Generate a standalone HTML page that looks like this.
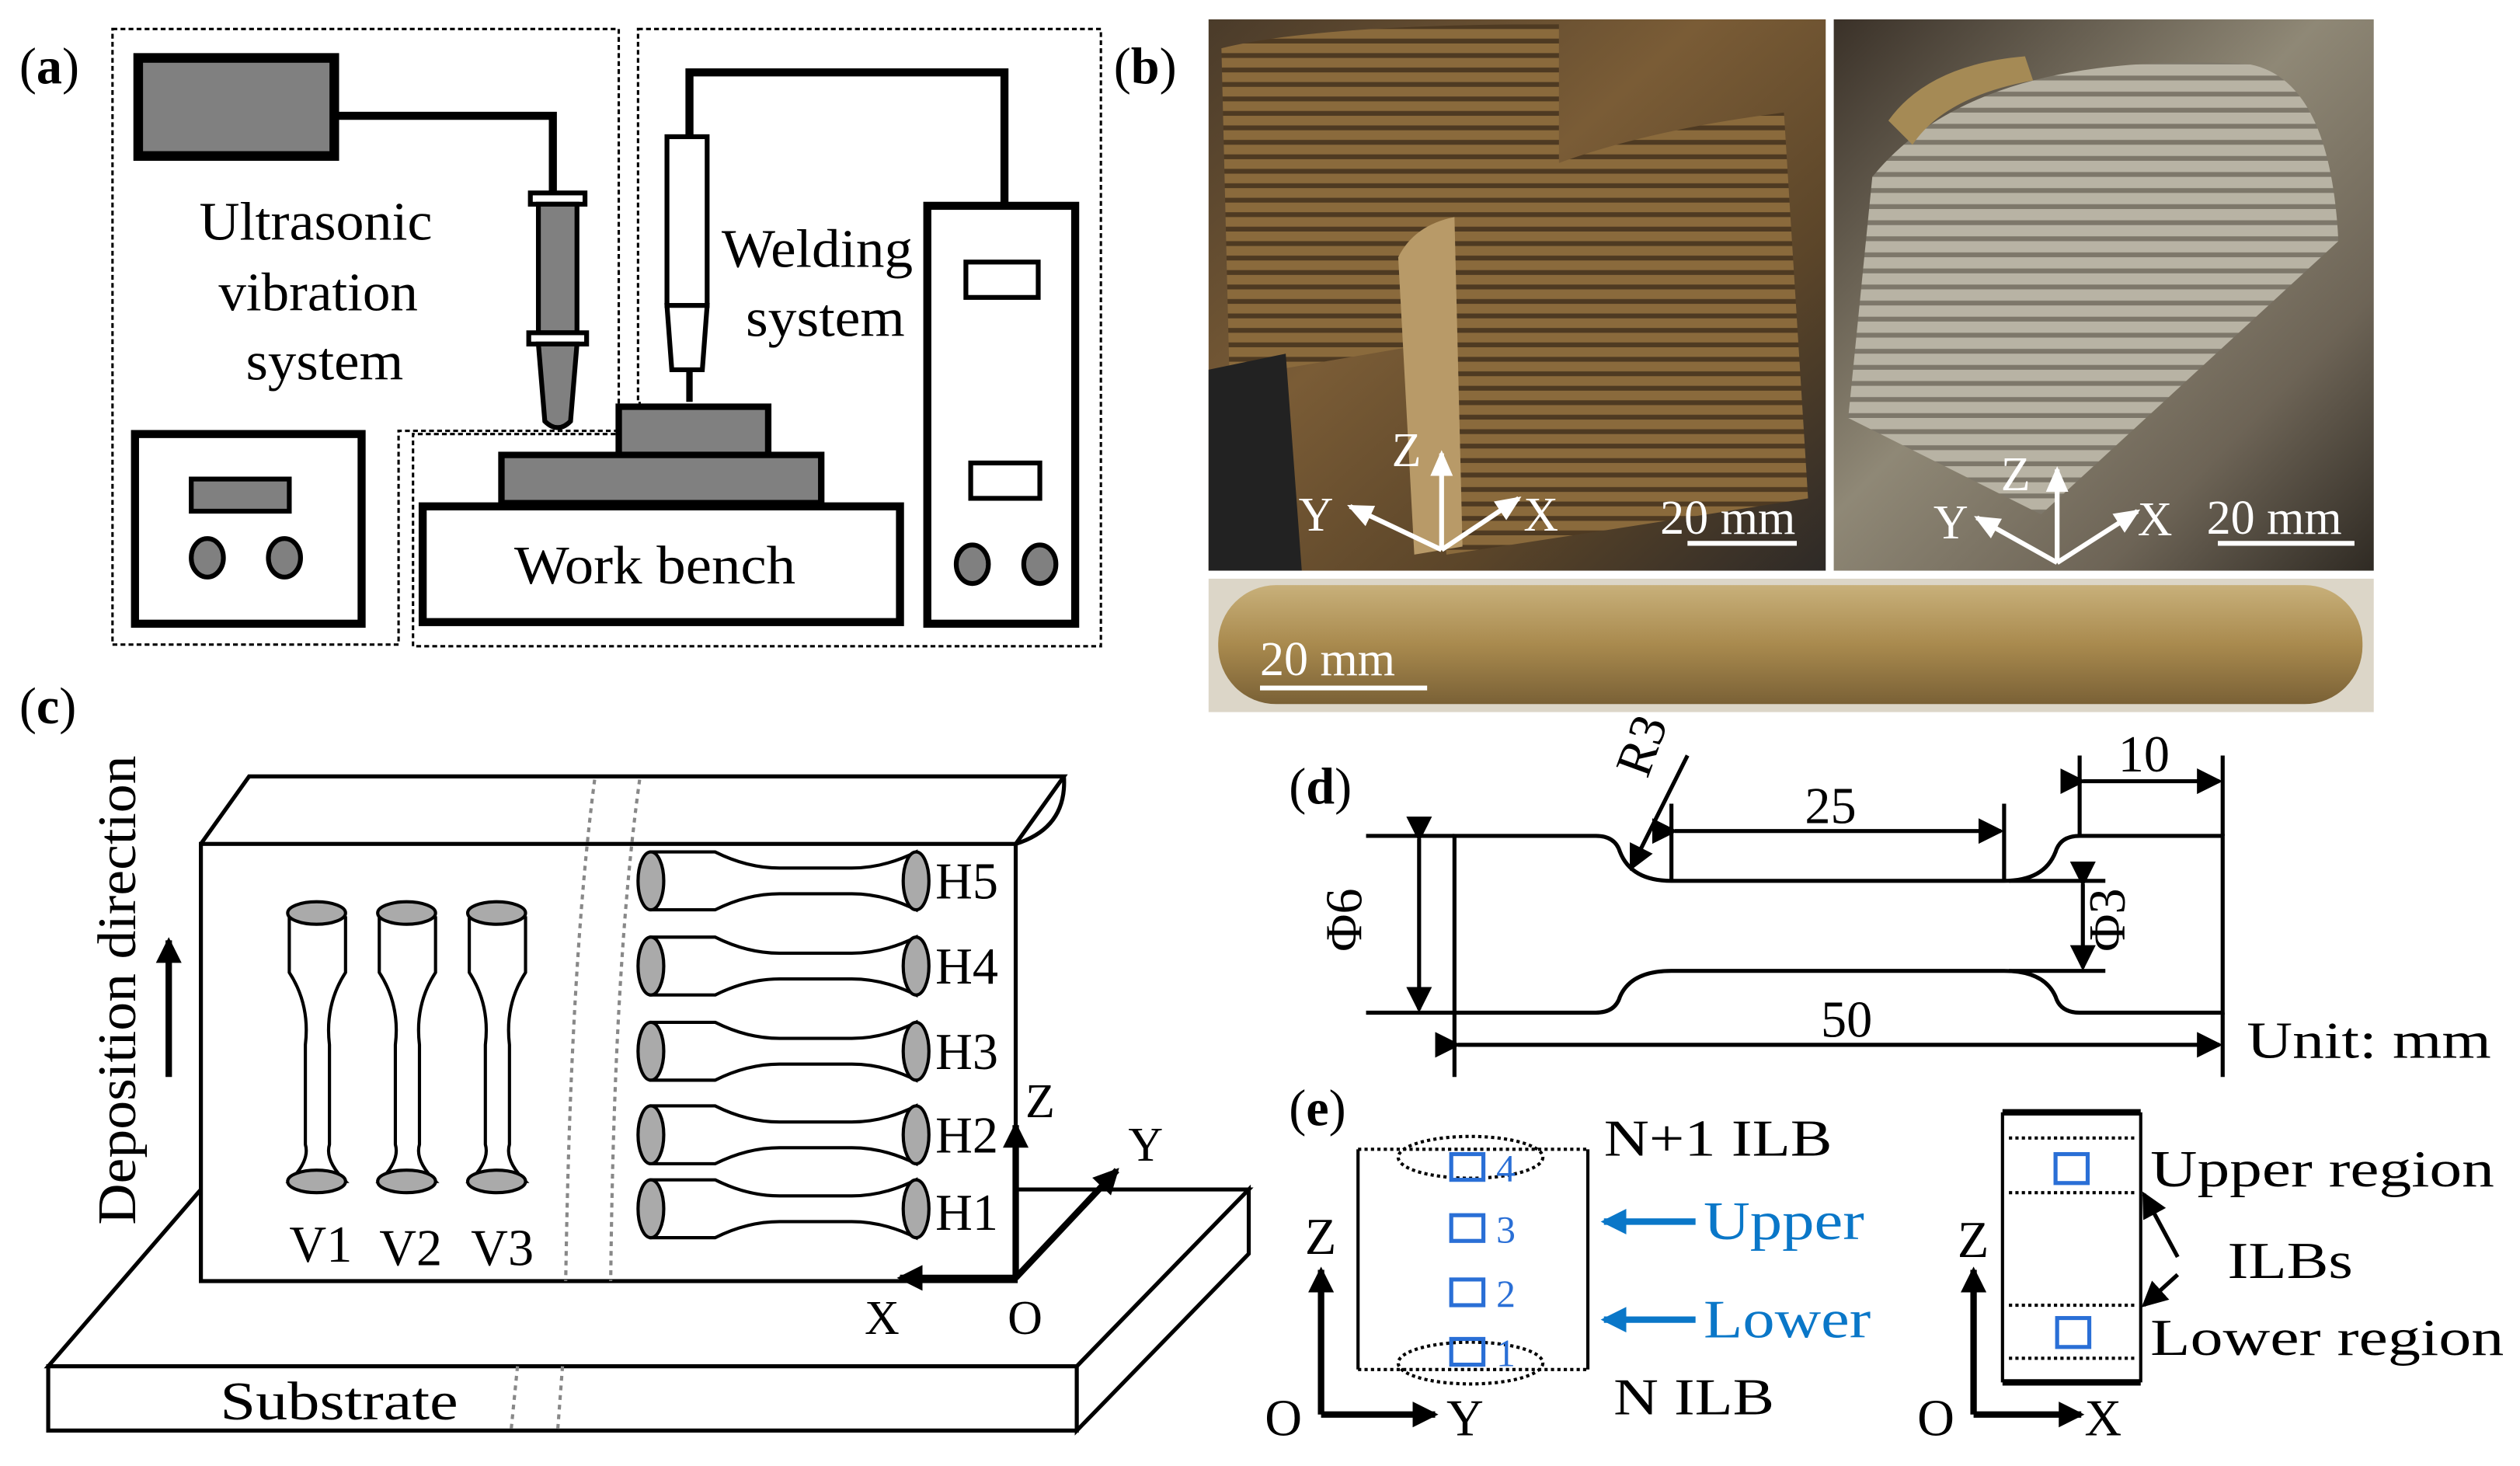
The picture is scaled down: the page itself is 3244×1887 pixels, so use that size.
<!DOCTYPE html>
<html><head><meta charset="utf-8"><style>html,body{margin:0;padding:0;background:#fff}svg{display:block}text{font-family:"Liberation Serif",serif}</style></head><body>
<svg width="3244" height="1887" viewBox="0 0 1568 912" xmlns="http://www.w3.org/2000/svg">
<defs>
<marker id="ahb" markerWidth="16" markerHeight="16" refX="14" refY="8" orient="auto" markerUnits="userSpaceOnUse" viewBox="0 0 16 16"><path d="M0,0 L16,8 L0,16 z" fill="#000"/></marker>
<marker id="ahw" markerWidth="16" markerHeight="16" refX="14" refY="8" orient="auto" markerUnits="userSpaceOnUse" viewBox="0 0 16 16"><path d="M0,1 L16,8 L0,15 z" fill="#fff"/></marker>
<marker id="ahblue" markerWidth="16" markerHeight="16" refX="14" refY="8" orient="auto" markerUnits="userSpaceOnUse" viewBox="0 0 16 16"><path d="M0,0 L16,8 L0,16 z" fill="#0a77c8"/></marker>
<linearGradient id="p1" x1="0" y1="0" x2="1" y2="1"><stop offset="0" stop-color="#4a3b2a"/><stop offset="0.4" stop-color="#7a5c36"/><stop offset="0.7" stop-color="#5b4529"/><stop offset="1" stop-color="#2e2a27"/></linearGradient>
<linearGradient id="p2" x1="0" y1="0" x2="1" y2="1"><stop offset="0" stop-color="#3a3128"/><stop offset="0.45" stop-color="#8f8876"/><stop offset="0.75" stop-color="#6d6456"/><stop offset="1" stop-color="#2f2a23"/></linearGradient>
<linearGradient id="p3" x1="0" y1="0" x2="0" y2="1"><stop offset="0" stop-color="#c8b07a"/><stop offset="0.5" stop-color="#a98a4e"/><stop offset="1" stop-color="#7a6136"/></linearGradient>
<pattern id="ridge" width="8" height="9" patternUnits="userSpaceOnUse"><rect width="8" height="9" fill="#8a6a3c"/><rect y="6" width="8" height="3" fill="#4e3a22"/></pattern>
<pattern id="ridge2" width="9" height="10" patternUnits="userSpaceOnUse"><rect width="9" height="10" fill="#b8b3a4"/><rect y="7" width="9" height="3" fill="#7d776a"/></pattern>
</defs>

<!-- (a) -->
<text x="12" y="52" font-size="32">(<tspan font-weight="bold">a</tspan>)</text>
<g fill="none" stroke="#000" stroke-width="1.5" stroke-dasharray="3,2">
<path d="M70,18 H385 V268 H248 V401 H70 Z"/>
<path d="M397,18 H685 V402 H257 V270 H398 V250 H397 Z"/>
</g>
<rect x="86" y="36" width="122" height="61" fill="#808080" stroke="#000" stroke-width="6"/>
<path d="M208,72 H344 V120" fill="none" stroke="#000" stroke-width="5"/>
<rect x="330" y="120" width="34" height="7" fill="#fff" stroke="#000" stroke-width="3"/>
<rect x="335" y="127" width="24" height="80" fill="#808080" stroke="#000" stroke-width="3"/>
<rect x="329" y="207" width="36" height="7" fill="#fff" stroke="#000" stroke-width="3"/>
<path d="M335,214 H359 L355,262 Q347,270 339,262 Z" fill="#808080" stroke="#000" stroke-width="3"/>
<text x="124" y="149" font-size="34" textLength="145" lengthAdjust="spacingAndGlyphs">Ultrasonic</text>
<text x="136" y="193" font-size="34" textLength="124" lengthAdjust="spacingAndGlyphs">vibration</text>
<text x="153" y="236" font-size="34" textLength="98" lengthAdjust="spacingAndGlyphs">system</text>
<rect x="84" y="270" width="141" height="118" fill="#fff" stroke="#000" stroke-width="5"/>
<rect x="119" y="298" width="61" height="20" fill="#808080" stroke="#000" stroke-width="3"/>
<ellipse cx="129" cy="347" rx="10" ry="12" fill="#808080" stroke="#000" stroke-width="3"/>
<ellipse cx="177" cy="347" rx="10" ry="12" fill="#808080" stroke="#000" stroke-width="3"/>
<path d="M429,85 V45 H625 V128" fill="none" stroke="#000" stroke-width="5"/>
<rect x="415" y="85" width="25" height="105" fill="#fff" stroke="#000" stroke-width="3"/>
<path d="M415,190 H440 L437,230 H418 Z" fill="#fff" stroke="#000" stroke-width="3"/>
<line x1="429" y1="230" x2="429" y2="250" stroke="#000" stroke-width="4"/>
<rect x="385" y="253" width="93" height="30" fill="#808080" stroke="#000" stroke-width="4"/>
<rect x="312" y="283" width="199" height="30" fill="#808080" stroke="#000" stroke-width="4"/>
<rect x="263" y="315" width="297" height="72" fill="#fff" stroke="#000" stroke-width="5"/>
<text x="320" y="363" font-size="34" textLength="175" lengthAdjust="spacingAndGlyphs">Work bench</text>
<text x="449" y="166" font-size="34" textLength="119" lengthAdjust="spacingAndGlyphs">Welding</text>
<text x="464" y="209" font-size="34" textLength="99" lengthAdjust="spacingAndGlyphs">system</text>
<rect x="577" y="128" width="92" height="260" fill="#fff" stroke="#000" stroke-width="5"/>
<rect x="601" y="163" width="45" height="22" fill="#fff" stroke="#000" stroke-width="3"/>
<rect x="604" y="288" width="43" height="22" fill="#fff" stroke="#000" stroke-width="3"/>
<ellipse cx="605" cy="351" rx="10" ry="12" fill="#808080" stroke="#000" stroke-width="3"/>
<ellipse cx="647" cy="351" rx="10" ry="12" fill="#808080" stroke="#000" stroke-width="3"/>

<!-- (b) -->
<text x="693" y="52" font-size="32">(<tspan font-weight="bold">b</tspan>)</text>
<rect x="752" y="12" width="384" height="343" fill="url(#p1)"/>
<path d="M760,30 Q820,15 970,15 L970,200 L765,235 Z" fill="url(#ridge)"/>
<path d="M885,150 Q950,90 1110,70 L1125,310 Q1000,330 900,345 Z" fill="url(#ridge)"/>
<path d="M870,160 Q880,140 905,135 L910,340 L880,345 Z" fill="#b89a68"/>
<path d="M752,230 L800,220 L810,355 L752,355 Z" fill="#222"/>
<rect x="1141" y="12" width="336" height="343" fill="url(#p2)"/>
<path d="M1165,110 Q1230,30 1400,40 Q1450,50 1455,150 L1270,320 L1150,260 Z" fill="url(#ridge2)"/>
<path d="M1175,75 Q1200,40 1260,35 L1265,50 Q1210,60 1190,90 Z" fill="#a58a55"/>
<rect x="752" y="360" width="725" height="83" fill="#dcd6c8"/>
<rect x="758" y="364" width="712" height="74" rx="36" fill="url(#p3)"/>
<g fill="none" stroke="#fff" stroke-width="3">
<line x1="897" y1="342" x2="897" y2="282" marker-end="url(#ahw)"/>
<line x1="897" y1="342" x2="945" y2="310" marker-end="url(#ahw)"/>
<line x1="897" y1="342" x2="840" y2="315" marker-end="url(#ahw)"/>
<line x1="1280" y1="350" x2="1280" y2="292" marker-end="url(#ahw)"/>
<line x1="1280" y1="350" x2="1330" y2="318" marker-end="url(#ahw)"/>
<line x1="1280" y1="350" x2="1230" y2="322" marker-end="url(#ahw)"/>
<line x1="1050" y1="338" x2="1118" y2="338"/>
<line x1="1380" y1="338" x2="1465" y2="338"/>
<line x1="784" y1="428" x2="888" y2="428"/>
</g>
<g fill="#fff" font-size="30">
<text x="866" y="290">Z</text><text x="808" y="330">Y</text><text x="948" y="330">X</text>
<text x="1033" y="332">20 mm</text>
<text x="1245" y="305">Z</text><text x="1203" y="335">Y</text><text x="1330" y="333">X</text>
<text x="1373" y="332">20 mm</text>
<text x="784" y="420">20 mm</text>
</g>

<!-- (c) -->
<text x="12" y="450" font-size="32">(<tspan font-weight="bold">c</tspan>)</text>
<text transform="translate(84,762) rotate(-90)" font-size="34" textLength="292" lengthAdjust="spacingAndGlyphs">Deposition direction</text>
<line x1="105" y1="670" x2="105" y2="585" stroke="#000" stroke-width="4" marker-end="url(#ahb)"/>
<path d="M30,850 L125,740 H777 L670,850 Z" fill="#fff" stroke="#000" stroke-width="2.5"/>
<path d="M30,850 H670 V890 H30 Z" fill="#fff" stroke="#000" stroke-width="2.5"/>
<path d="M670,850 L777,740 V780 L670,890 Z" fill="#fff" stroke="#000" stroke-width="2.5"/>
<text x="137" y="883" font-size="34" textLength="148" lengthAdjust="spacingAndGlyphs">Substrate</text>
<path d="M125,525 L155,483 H662 L632,525" fill="#fff" stroke="#000" stroke-width="2.5"/>
<rect x="125" y="525" width="507" height="272" fill="#fff" stroke="#000" stroke-width="2.5"/>
<path d="M662,483 Q664,515 632,525" fill="none" stroke="#000" stroke-width="2.5"/>
<g stroke="#888" stroke-width="2" stroke-dasharray="3,3" fill="none">
<path d="M370,485 Q355,600 352,797"/><path d="M398,485 Q382,600 380,797"/>
<line x1="322" y1="850" x2="318" y2="890"/><line x1="350" y1="850" x2="347" y2="890"/>
</g>
<g stroke="#000" stroke-width="2" fill="#fff">
<g id="v"><path d="M180,570 V605 Q193,625 190,650 V712 Q193,722 180,735 H215 Q202,722 205,712 V650 Q202,625 215,605 V570"/>
<ellipse cx="197" cy="568" rx="18" ry="7" fill="#aaa"/><ellipse cx="197" cy="735" rx="18" ry="7" fill="#aaa"/></g>
<use href="#v" x="56"/><use href="#v" x="112"/>
</g>
<g font-size="32"><text x="180" y="785">V1</text><text x="236" y="787">V2</text><text x="293" y="787">V3</text></g>
<g stroke="#000" stroke-width="2" fill="#fff">
<g id="h"><path d="M405,530 H445 Q465,540 485,540 H530 Q550,540 570,530 V566 Q550,556 530,556 H485 Q465,556 445,566 H405 Z"/>
<ellipse cx="405" cy="548" rx="8" ry="18" fill="#aaa"/><ellipse cx="570" cy="548" rx="8" ry="18" fill="#aaa"/></g>
<use href="#h" y="53"/><use href="#h" y="106"/><use href="#h" y="158"/><use href="#h" y="204"/>
</g>
<g font-size="32"><text x="582" y="559">H5</text><text x="582" y="612">H4</text><text x="582" y="665">H3</text><text x="582" y="717">H2</text><text x="582" y="765">H1</text></g>
<g stroke="#000" stroke-width="4">
<line x1="632" y1="795" x2="632" y2="700" marker-end="url(#ahb)"/>
<line x1="632" y1="795" x2="560" y2="795" marker-end="url(#ahb)"/>
<line x1="632" y1="795" x2="695" y2="728" marker-end="url(#ahb)"/>
</g>
<g font-size="30"><text x="638" y="695">Z</text><text x="702" y="722">Y</text><text x="538" y="830">X</text><text x="627" y="830">O</text></g>

<!-- (d) -->
<text x="802" y="500" font-size="32">(<tspan font-weight="bold">d</tspan>)</text>
<path d="M905,520 H993 Q1005,520 1008,530 Q1015,548 1040,548 H1247 Q1272,548 1279,530 Q1282,520 1294,520 H1383 V630 H1294 Q1282,630 1279,620 Q1272,604 1247,604 H1040 Q1015,604 1008,620 Q1005,630 993,630 H905 Z" fill="#fff" stroke="#000" stroke-width="2.5"/>
<g stroke="#000" stroke-width="2.5" fill="none">
<line x1="850" y1="520" x2="905" y2="520"/><line x1="850" y1="630" x2="905" y2="630"/>
<line x1="883" y1="522" x2="883" y2="628" marker-end="url(#ahb)" marker-start="url(#ahb)"/>
<line x1="1040" y1="500" x2="1040" y2="548"/><line x1="1247" y1="500" x2="1247" y2="548"/>
<line x1="1042" y1="517" x2="1245" y2="517" marker-end="url(#ahb)" marker-start="url(#ahb)"/>
<line x1="1294" y1="470" x2="1294" y2="520"/><line x1="1383" y1="470" x2="1383" y2="520"/>
<line x1="1296" y1="486" x2="1381" y2="486" marker-end="url(#ahb)" marker-start="url(#ahb)"/>
<line x1="1250" y1="548" x2="1310" y2="548"/><line x1="1250" y1="604" x2="1310" y2="604"/>
<line x1="1296" y1="550" x2="1296" y2="602" marker-end="url(#ahb)" marker-start="url(#ahb)"/>
<line x1="905" y1="630" x2="905" y2="670"/><line x1="1383" y1="630" x2="1383" y2="670"/>
<line x1="907" y1="650" x2="1381" y2="650" marker-end="url(#ahb)" marker-start="url(#ahb)"/>
<line x1="1050" y1="470" x2="1015" y2="540" marker-end="url(#ahb)"/>
</g>
<g font-size="32">
<text transform="translate(1025,485) rotate(-70)">R3</text>
<text x="1123" y="512">25</text><text x="1318" y="480">10</text><text x="1133" y="645">50</text>
<text transform="translate(847,592) rotate(-90)">Φ6</text>
<text transform="translate(1322,592) rotate(-90)">Φ3</text>
<text x="1398" y="658" textLength="152" lengthAdjust="spacingAndGlyphs">Unit: mm</text>
</g>

<!-- (e) -->
<text x="802" y="700" font-size="32">(<tspan font-weight="bold">e</tspan>)</text>
<g stroke="#000" stroke-width="2" fill="none">
<line x1="845" y1="715" x2="845" y2="852"/><line x1="988" y1="715" x2="988" y2="852"/>
<g stroke-dasharray="2,2"><line x1="845" y1="715" x2="988" y2="715"/><line x1="845" y1="852" x2="988" y2="852"/>
<ellipse cx="915" cy="720" rx="45" ry="13"/><ellipse cx="915" cy="848" rx="45" ry="13"/></g>
</g>
<g stroke="#2a6fd6" stroke-width="2.5" fill="none">
<rect x="903" y="718" width="20" height="16"/><rect x="903" y="756" width="20" height="16"/><rect x="903" y="796" width="20" height="16"/><rect x="903" y="833" width="20" height="16"/>
</g>
<g fill="#2a6fd6" font-size="24"><text x="931" y="735">4</text><text x="931" y="773">3</text><text x="931" y="813">2</text><text x="931" y="850">1</text></g>
<g stroke="#0a77c8" stroke-width="4">
<line x1="1055" y1="760" x2="998" y2="760" marker-end="url(#ahblue)"/>
<line x1="1055" y1="821" x2="998" y2="821" marker-end="url(#ahblue)"/>
</g>
<g fill="#0a77c8" font-size="34"><text x="1060" y="771" textLength="100" lengthAdjust="spacingAndGlyphs">Upper</text><text x="1060" y="832" textLength="104" lengthAdjust="spacingAndGlyphs">Lower</text></g>
<g font-size="32"><text x="998" y="719" textLength="142" lengthAdjust="spacingAndGlyphs">N+1 ILB</text><text x="1004" y="880" textLength="100" lengthAdjust="spacingAndGlyphs">N ILB</text>
<text x="812" y="780">Z</text><text x="787" y="893">O</text><text x="900" y="893">Y</text></g>
<g stroke="#000" stroke-width="4">
<line x1="822" y1="880" x2="822" y2="790" marker-end="url(#ahb)"/>
<line x1="822" y1="880" x2="893" y2="880" marker-end="url(#ahb)"/>
</g>
<g stroke="#000" fill="none">
<line x1="1246" y1="692" x2="1332" y2="692" stroke-width="4"/>
<line x1="1246" y1="860" x2="1332" y2="860" stroke-width="4"/>
<line x1="1246" y1="692" x2="1246" y2="860" stroke-width="2"/>
<line x1="1332" y1="692" x2="1332" y2="860" stroke-width="2"/>
<g stroke-width="2" stroke-dasharray="2,2"><line x1="1250" y1="708" x2="1328" y2="708"/><line x1="1250" y1="742" x2="1328" y2="742"/><line x1="1250" y1="812" x2="1328" y2="812"/><line x1="1250" y1="845" x2="1328" y2="845"/></g>
<line x1="1355" y1="782" x2="1334" y2="743" stroke-width="2.5" marker-end="url(#ahb)"/>
<line x1="1355" y1="793" x2="1334" y2="812" stroke-width="2.5" marker-end="url(#ahb)"/>
</g>
<g stroke="#2a6fd6" stroke-width="2.5" fill="none"><rect x="1279" y="718" width="20" height="18"/><rect x="1280" y="820" width="20" height="18"/></g>
<g font-size="32"><text x="1338" y="738" textLength="214" lengthAdjust="spacingAndGlyphs">Upper region</text><text x="1386" y="795" textLength="78" lengthAdjust="spacingAndGlyphs">ILBs</text><text x="1338" y="843" textLength="220" lengthAdjust="spacingAndGlyphs">Lower region</text>
<text x="1218" y="782">Z</text><text x="1193" y="893">O</text><text x="1297" y="893">X</text></g>
<g stroke="#000" stroke-width="4">
<line x1="1228" y1="880" x2="1228" y2="790" marker-end="url(#ahb)"/>
<line x1="1228" y1="880" x2="1295" y2="880" marker-end="url(#ahb)"/>
</g>
</svg>
</body></html>
